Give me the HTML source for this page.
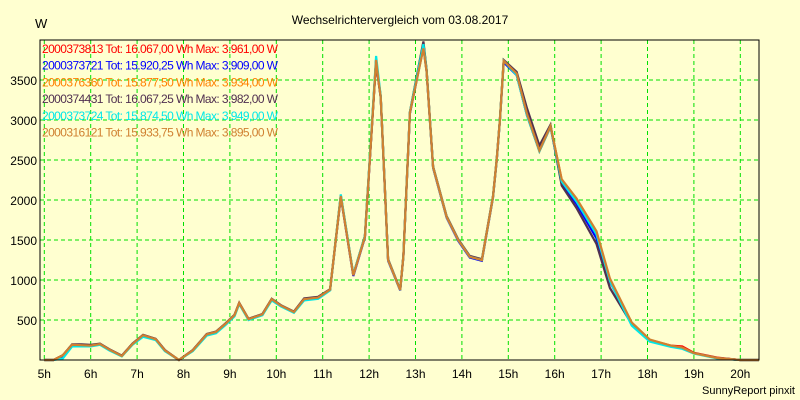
<!DOCTYPE html>
<html><head><meta charset="utf-8"><style>
body{margin:0;background:#FFFFD0;}
svg{display:block;font-family:"Liberation Sans",sans-serif;}
</style></head><body>
<svg id="chart" width="800" height="400" xmlns="http://www.w3.org/2000/svg">
<rect width="800" height="400" fill="#FFFFD0"/>
<text x="400" y="24" text-anchor="middle" font-size="12">Wechselrichtervergleich vom 03.08.2017</text>
<text x="35" y="28" font-size="13">W</text>
<text x="795" y="394" text-anchor="end" font-size="11">SunnyReport pinxit</text>
<g id="grid"></g><g id="series"></g><g id="axes"></g><g id="legend"></g>
</svg>
<script>
const hours=[5.0,5.2,5.4,5.6,5.8,6.0,6.2,6.4,6.67,6.9,7.13,7.4,7.6,7.9,8.2,8.5,8.7,8.9,9.1,9.2,9.4,9.7,9.9,10.1,10.38,10.6,10.9,11.16,11.39,11.66,11.91,12.15,12.2,12.25,12.41,12.67,12.74,12.88,13.17,13.24,13.38,13.67,13.92,14.17,14.43,14.67,14.75,14.82,14.9,15.18,15.4,15.67,15.91,16.15,16.47,16.9,17.19,17.66,18.05,18.5,18.75,19.0,19.5,20.0,20.4];
const sRed=[0,0,60,190,185,180,200,130,50,200,310,260,120,0,120,320,350,450,560,710,510,570,760,680,600,760,780,880,2050,1060,1540,3750,3500,3290,1250,875,1300,3090,3960,3620,2410,1790,1500,1290,1250,2040,2500,3000,3740,3580,3080,2620,2925,2250,2000,1590,1000,460,250,180,170,90,30,0,0];
const sBlue=[0,0,40,185,185,180,200,130,50,200,305,255,115,0,115,315,345,445,555,705,505,565,755,675,595,755,775,875,2040,1050,1530,3740,3490,3280,1240,870,1290,3080,3909,3600,2400,1780,1490,1280,1240,2030,2490,2990,3720,3560,3060,2610,2915,2200,1950,1520,980,455,245,175,150,85,25,0,0];
const sOrange=[0,0,60,190,185,180,200,130,50,200,310,260,120,0,120,320,350,450,560,710,510,570,760,680,600,760,780,880,2050,1060,1540,3750,3500,3290,1250,875,1300,3090,3934,3610,2410,1790,1500,1290,1250,2040,2500,3000,3740,3570,3070,2610,2920,2240,1990,1580,990,460,250,175,150,85,25,0,0];
const sDark=[0,0,60,195,195,190,205,135,55,205,315,265,125,0,125,325,355,455,565,715,515,575,765,685,605,770,790,885,2060,1070,1550,3760,3510,3300,1260,880,1310,3100,3982,3630,2420,1800,1510,1300,1260,2050,2510,3010,3750,3600,3150,2680,2940,2180,1900,1450,900,450,250,175,150,85,25,0,0];
const sCyan=[0,0,20,170,170,170,190,120,45,190,290,250,110,0,110,305,335,435,545,700,500,560,745,670,590,745,765,870,2070,1070,1550,3800,3550,3300,1250,875,1300,3100,3949,3620,2410,1790,1500,1290,1250,2040,2500,3000,3740,3560,3060,2610,2920,2230,1980,1570,990,430,230,165,140,80,20,0,0];
const sBrown=[0,0,60,190,185,180,200,130,50,200,310,260,120,0,120,320,350,450,560,710,510,570,760,680,600,760,780,880,2050,1060,1540,3750,3500,3290,1250,875,1300,3090,3895,3610,2410,1790,1500,1290,1250,2040,2500,3000,3740,3580,3080,2620,2925,2260,2020,1610,1020,470,255,180,155,85,25,0,0];
const seriesNames=["2000373813","2000373721","2000376360","2000374431","2000373724","2000316121"];
const seriesTotals=["16.067,00","15.920,25","15.877,50","16.067,25","15.874,50","15.933,75"];
const seriesMax=["3.961,00","3.909,00","3.934,00","3.982,00","3.949,00","3.895,00"];
const seriesColors=["#FF0000","#0000FF","#FF8000","#503050","#00E8E8","#D08030"];
const yTicks=[500,1000,1500,2000,2500,3000,3500];
const xTicks=[5,6,7,8,9,10,11,12,13,14,15,16,17,18,19,20];
const X0=40,X1=759,Y0=360,Y1=40;
const xs=h=>44.3+(h-5)*46.4;
const ys=v=>Math.max(Y1,Y0-v*0.08);
const NS="http://www.w3.org/2000/svg";
function mk(tag,parent){const e=document.createElementNS(NS,tag);parent.appendChild(e);return e;}
const grid=document.getElementById('grid'),axes=document.getElementById('axes'),ser=document.getElementById('series'),leg=document.getElementById('legend');
yTicks.forEach(v=>{
 const l=mk('line',grid);
 
 
 l.setAttribute('x1',X0);l.setAttribute('x2',X1);l.setAttribute('y1',ys(v));l.setAttribute('y2',ys(v));
 l.setAttribute('stroke','#00E000');l.setAttribute('stroke-dasharray','4,3');
 const t=mk('text',axes);
 
 
 t.setAttribute('x',37);t.setAttribute('y',ys(v)+5);t.setAttribute('text-anchor','end');t.setAttribute('font-size','12');
 t.textContent=v;
});
xTicks.forEach(h=>{
 const l=mk('line',grid);
 
 
 l.setAttribute('x1',xs(h));l.setAttribute('x2',xs(h));l.setAttribute('y1',Y1);l.setAttribute('y2',Y0);
 l.setAttribute('stroke','#00E000');l.setAttribute('stroke-dasharray','4,3');
 const t=mk('text',axes);
 
 
 t.setAttribute('x',xs(h));t.setAttribute('y',378);t.setAttribute('text-anchor','middle');t.setAttribute('font-size','12');
 t.textContent=h+'h';
});
const frame=mk('rect',axes);


frame.setAttribute('x',X0);frame.setAttribute('y',Y1);frame.setAttribute('width',X1-X0);frame.setAttribute('height',Y0-Y1);
frame.setAttribute('fill','none');frame.setAttribute('stroke','#000');
[sRed,sBlue,sOrange,sDark,sCyan,sBrown].forEach((s,i)=>{
 const p=mk('polyline',ser);
 
 
 p.setAttribute('points',s.map((v,j)=>xs(hours[j]).toFixed(1)+','+ys(v).toFixed(1)).join(' '));
 p.setAttribute('fill','none');p.setAttribute('stroke',seriesColors[i]);p.setAttribute('stroke-width','2.2');
 const t=mk('text',leg);
 
 
 t.setAttribute('x',42);t.setAttribute('y',53+i*16.7);t.setAttribute('font-size','12');t.setAttribute('fill',seriesColors[i]);
 t.setAttribute('textLength','236');
 t.textContent=seriesNames[i]+' Tot: '+seriesTotals[i]+' Wh Max: '+seriesMax[i]+' W';
});
</script>
</body></html>
